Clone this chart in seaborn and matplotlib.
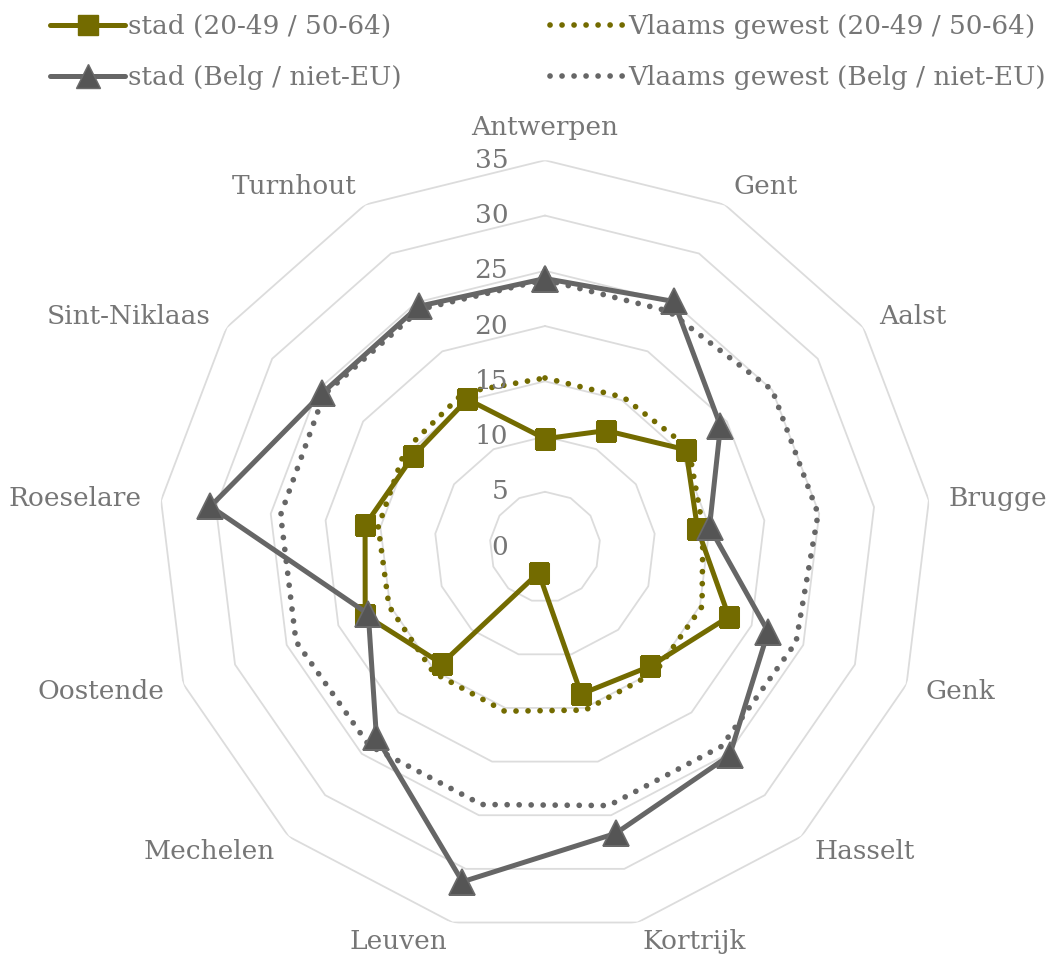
import numpy as np
import pandas as pd
import matplotlib
matplotlib.use("Agg")
import matplotlib.pyplot as plt
from matplotlib.lines import Line2D
import seaborn as sns

# --- data ---
steden = ['Antwerpen', 'Gent', 'Aalst', 'Brugge', 'Genk', 'Hasselt', 'Kortrijk',
          'Leuven', 'Mechelen', 'Oostende', 'Roeselare', 'Sint-Niklaas', 'Turnhout']
stad_leeftijd = [9.8, 11.9, 15.5, 13.9, 17.8, 14.4, 13.7, 2.4, 14.1, 17.4, 16.4, 14.5, 15.1]
vg_leeftijd = [15.3, 15.3, 15.8, 14.4, 15.2, 15.1, 15.2, 15.3, 15.2, 15.1, 15.2, 15.4, 15.8]
stad_herkomst = [24.3, 25.1, 19.3, 15.0, 21.6, 25.2, 26.7, 31.2, 23.0, 17.1, 30.5, 24.5, 24.6]
vg_herkomst = [24.2, 24.1, 25.0, 24.9, 24.3, 24.1, 24.1, 24.0, 24.0, 24.1, 24.1, 24.3, 24.3]
ringen = [5, 10, 15, 20, 25, 30, 35]
ring_labels = [0, 5, 10, 15, 20, 25, 30, 35]

labels_legend = ['stad (20-49 / 50-64)', 'stad (Belg / niet-EU)',
                 'Vlaams gewest (20-49 / 50-64)', 'Vlaams gewest (Belg / niet-EU)']

olijf = '#736b00'
grijs = '#666666'
tekst = '#767676'
fs = 19

sns.set_style('white')
plt.rcParams['font.family'] = ['DejaVu Serif', 'DejaVu Sans']

n = len(steden)
theta = np.linspace(0, 2 * np.pi, n, endpoint=False)
theta_c = np.append(theta, 2 * np.pi)

def gesloten(vals):
    return pd.DataFrame({'theta': theta_c, 'r': list(vals) + [vals[0]]})

fig = plt.figure(figsize=(10.54, 9.55), dpi=100)
ax = fig.add_axes([0.1501, 0.02225, 0.7339, 0.8099], projection='polar')
ax.set_theta_zero_location('N')
ax.set_theta_direction(-1)
ax.set_ylim(0, 35)
ax.grid(False)
ax.set_xticks([])
ax.set_yticks([])
ax.spines['polar'].set_visible(False)

# polygon gridlines
for lvl in ringen:
    ax.plot(theta_c, [lvl] * (n + 1), color='#dcdcdc', lw=1.3, zorder=0)

dot = (0, (0.01, 2.1))
for vals, kleur in [(vg_leeftijd, olijf), (vg_herkomst, grijs)]:
    sns.lineplot(data=gesloten(vals), x='theta', y='r', ax=ax, sort=False,
                 color=kleur, lw=4.1, zorder=2)
    lijn = ax.lines[-1]
    lijn.set_linestyle(dot)
    lijn.set_dash_capstyle('round')

sns.lineplot(data=gesloten(stad_leeftijd), x='theta', y='r', ax=ax, sort=False,
             color=olijf, lw=3.6, marker='s', markersize=14, markerfacecolor=olijf,
             markeredgecolor=olijf, zorder=3)
sns.lineplot(data=gesloten(stad_herkomst), x='theta', y='r', ax=ax, sort=False,
             color=grijs, lw=3.6, marker='^', markersize=19, markerfacecolor='#555555',
             markeredgecolor='#6a6a6a', markeredgewidth=1.2, zorder=4)
ax.set_xlabel('')
ax.set_ylabel('')
ax.set_ylim(0, 35)

# category labels
for t, naam in zip(theta, steden):
    s = np.sin(t)
    ha = 'center' if abs(s) < 0.05 else ('left' if s > 0 else 'right')
    va = 'bottom' if abs(s) < 0.05 else 'center'
    ax.text(t, 36.8, naam, ha=ha, va=va, fontsize=fs, color=tekst)

# radial tick labels
for v in ring_labels:
    ax.annotate(str(v), xy=(0, v), xytext=(-26.5, 0), textcoords='offset points',
                ha='right', va='center', fontsize=fs, color=tekst)

# legend
h_stad1 = Line2D([], [], color=olijf, lw=3.6, marker='s', markersize=14)
h_stad2 = Line2D([], [], color=grijs, lw=3.6, marker='^', markersize=17,
                 markerfacecolor='#555555', markeredgecolor='#6a6a6a')
h_vg1 = Line2D([], [], color=olijf, lw=4.1, linestyle=dot, dash_capstyle='round')
h_vg2 = Line2D([], [], color=grijs, lw=4.1, linestyle=dot, dash_capstyle='round')

for handles, labs, x0 in [([h_stad1, h_stad2], labels_legend[:2], 50),
                          ([h_vg1, h_vg2], labels_legend[2:], 550)]:
    leg = fig.legend(handles, labs, loc='upper left',
                     bbox_to_anchor=(x0 / 1054, 1 - 14 / 955), frameon=False,
                     fontsize=fs, handlelength=2.85, handletextpad=0.1,
                     labelspacing=1.0, borderpad=0, borderaxespad=0)
    for txt in leg.get_texts():
        txt.set_color(tekst)

fig.savefig('out.png', dpi=100)
